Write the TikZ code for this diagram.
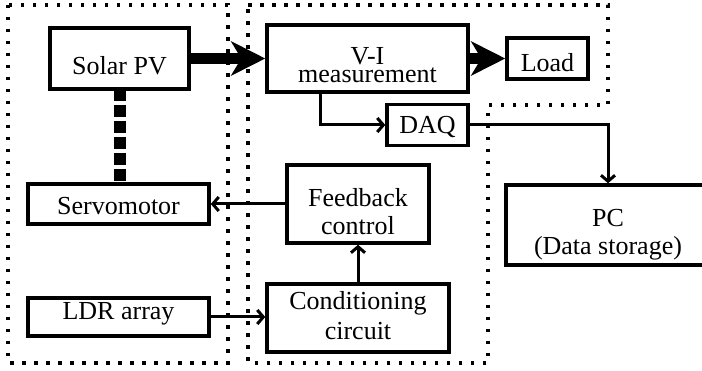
\documentclass[tikz,border=0pt]{standalone}
\usepackage{fontspec}
\setmainfont{Liberation Serif}
\usetikzlibrary{arrows.meta}
\newcommand{\onel}[2]{\raisebox{0pt}[#1][0pt]{#2}}
\newcommand{\twol}[4]{\raisebox{0pt}[#1][0pt]{\vbox{\baselineskip=#2\lineskiplimit=-100pt\relax\halign{\hfil##\hfil\cr#3\cr#4\cr}}}}
\begin{document}
\begin{tikzpicture}[x=1pt,y=-1pt,
  box/.style={draw, line width=3.5pt, inner sep=0pt,
    font=\fontsize{26}{24}\selectfont},
  frame/.style={line width=3.5pt, dash pattern=on 3.5pt off 8.5pt},
  conn/.style={line width=3pt, -{Straight Barb[length=6pt,width=14pt]}},
  bigarrow/.style={line width=11pt, -{Stealth[length=34pt,width=34pt,inset=10pt]}},
  mech/.style={line width=12pt, dash pattern=on 12pt off 4pt, dash phase=2pt}
]
\useasboundingbox (0,0) rectangle (702,371);

% dotted frames
\draw[frame] (8,5) rectangle (228,363);
\draw[frame] (248,5) -- (608,5) -- (608,105) -- (488,105) -- (488,363) -- (248,363) -- cycle;

% boxes
\node[box, minimum width=139pt, minimum height=61pt] (solar) at (119.5,58.5) {\onel{33pt}{Solar PV}};
\node[box, minimum width=201pt, minimum height=67pt] (vi) at (367.5,58.5) {\twol{49pt}{18.5pt}{V-I}{measurement}};
\node[box, minimum width=81pt, minimum height=41pt] (load) at (547.5,58.5) {\onel{27pt}{Load}};
\node[box, minimum width=81pt, minimum height=41pt] (daq) at (427.5,125) {\onel{17pt}{DAQ}};
\node[box, minimum width=204pt, minimum height=80pt] (pc) at (608,225) {\twol{60pt}{28pt}{PC}{(Data storage)}};
\node[box, minimum width=181pt, minimum height=40pt] (servo) at (118.5,204) {\onel{22pt}{Servomotor}};
\node[box, minimum width=142pt, minimum height=78pt] (fb) at (358,204) {\twol{62pt}{28pt}{Feedback}{control}};
\node[box, minimum width=182pt, minimum height=68pt] (cond) at (358,318) {\twol{44pt}{30pt}{Conditioning}{circuit}};
\node[box, minimum width=181pt, minimum height=38pt] (ldr) at (118.5,317) {\onel{6pt}{LDR array}};

% power flow
\draw[bigarrow] (solar.east) -- (vi.west);
\draw[bigarrow] (vi.east) -- (vi.east -| load.west);

% mechanical link
\draw[mech] (solar.south) -- (solar.south |- servo.north);

% signal connectors
\coordinate (vibot) at (320,92);
\draw[conn] (vibot |- vi.south) |- (daq.west);
\draw[conn] (daq.east) -| (pc.north);
\draw[conn] (fb.west) -- (fb.west -| servo.east);
\draw[conn] (cond.north) -- (fb.south);
\draw[conn] (ldr.east) -- (ldr.east -| cond.west);
\end{tikzpicture}
\end{document}
